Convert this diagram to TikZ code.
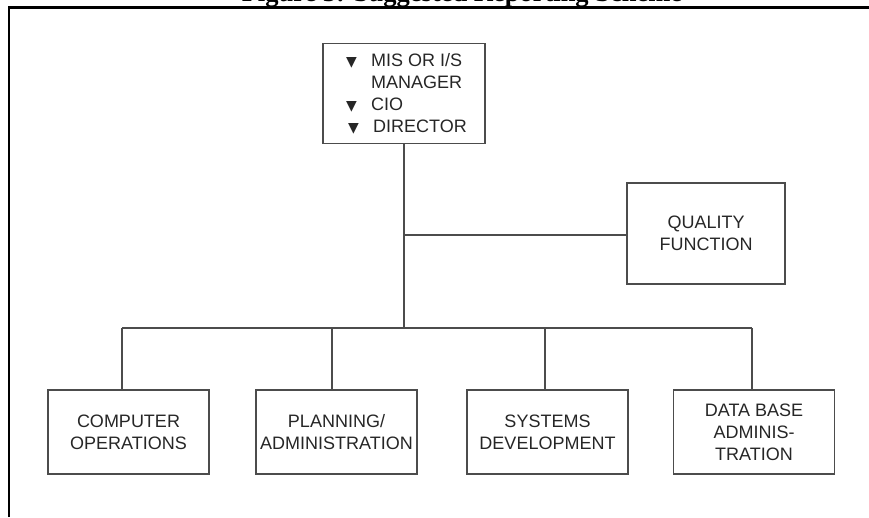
\documentclass[tikz,border=0pt]{standalone}
\usepackage{fontspec}
\setmainfont{Liberation Sans}
\newfontfamily\titlefont{Liberation Serif}
\newfontfamily\symfont{DejaVu Sans}
\begin{document}
\begin{tikzpicture}[x=1pt,y=-1pt,
  box/.style={draw=black!70, line width=1.2pt, inner sep=0pt, align=center,
    font=\fontsize{18}{22}\selectfont, text=black!85},
  conn/.style={draw=black!70, line width=1.2pt},
  frame/.style={draw=black, line width=2.6pt}]
\useasboundingbox (0,0) rectangle (869,517);
% title (partially cut off at top)
\begin{scope}
\clip (0,0) rectangle (869,517);
\node[anchor=base, inner sep=0pt] (title) at (462,1.8)
  {\titlefont\fontsize{26.5}{30}\selectfont\bfseries Figure 3: Suggested Reporting Scheme};
\end{scope}
% frame
\coordinate (fbl) at (9,517);
\coordinate (ftl) at (9,7.6);
\coordinate (ftr) at (869,7.6);
\draw[frame] (fbl) -- (ftl) -- (ftr);
% top box
\node[box, minimum width=162pt, minimum height=100pt] (top) at (404,93.5) {};
\node[anchor=west, align=left, inner sep=0pt, font=\fontsize{18}{22}\selectfont, text=black!85] (toptext) at (346,94)
 {\makebox[25pt][l]{\symfont\fontsize{14}{14}\selectfont ▼}MIS OR I/S\\
  \makebox[25pt][l]{}MANAGER\\
  \makebox[25pt][l]{\symfont\fontsize{14}{14}\selectfont ▼}CIO\\
  \makebox[27pt][l]{\hspace{2pt}\symfont\fontsize{14}{14}\selectfont ▼}DIRECTOR};
% quality box
\node[box, minimum width=158pt, minimum height=101pt] (qual) at (706,233.5) {QUALITY\\FUNCTION};
% bottom boxes
\node[box, minimum width=161pt, minimum height=84pt] (comp) at (128.5,432) {COMPUTER\\OPERATIONS};
\node[box, minimum width=161pt, minimum height=84pt] (plan) at (336.5,432) {PLANNING/\\ADMINISTRATION};
\node[box, minimum width=161pt, minimum height=84pt] (sys) at (547.5,432) {SYSTEMS\\DEVELOPMENT};
\node[box, minimum width=161pt, minimum height=84pt] (dba) at (754,432) {DATA BASE\\ADMINIS-\\TRATION};
% connectors
\coordinate (hub) at (404,235);
\coordinate (bus) at (404,328);
\coordinate (b1) at (122,328);
\coordinate (b2) at (332,328);
\coordinate (b3) at (545,328);
\coordinate (b4) at (752,328);
\draw[conn] (top.south) -- (bus);
\draw[conn] (hub) -- (qual.west |- hub);
\draw[conn] (b1) -- (b4);
\draw[conn] (b1) -- (b1 |- comp.north);
\draw[conn] (b2) -- (b2 |- plan.north);
\draw[conn] (b3) -- (b3 |- sys.north);
\draw[conn] (b4) -- (b4 |- dba.north);
\end{tikzpicture}
\end{document}
